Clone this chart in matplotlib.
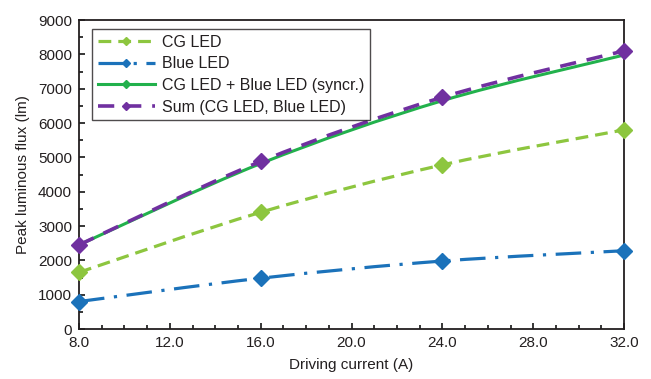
import numpy as np
import matplotlib
matplotlib.use("Agg")
import matplotlib.pyplot as plt
from matplotlib.path import Path
from matplotlib.patches import PathPatch
from matplotlib.lines import Line2D

current = [8.0, 16.0, 24.0, 32.0]
cg_led = [1650, 3400, 4780, 5800]
blue_led = [800, 1480, 1980, 2280]
sync = [2450, 4820, 6650, 7980]
total = [2450, 4880, 6750, 8100]

x_ticks = [8.0, 12.0, 16.0, 20.0, 24.0, 28.0, 32.0]

plt.rcParams['font.family'] = ['Liberation Sans', 'DejaVu Sans']
txt = '#231F20'

fig = plt.figure(figsize=(6.51, 3.79), dpi=100)
ax = fig.add_axes([0.1214, 0.1319, 0.8372, 0.8153])


def smooth_path(xs, ys):
    # excel style smoothed line: cubic bezier segments (catmull-rom, 1/6)
    pts = np.column_stack([xs, ys]).astype(float)
    n = len(pts)
    verts = [pts[0]]
    codes = [Path.MOVETO]
    for i in range(n - 1):
        p0 = pts[i - 1] if i > 0 else pts[i]
        p1 = pts[i]
        p2 = pts[i + 1]
        p3 = pts[i + 2] if i + 2 < n else pts[i + 1]
        c1 = p1 + (p2 - p0) / 6.0
        c2 = p2 - (p3 - p1) / 6.0
        verts += [c1, c2, p2]
        codes += [Path.CURVE4] * 3
    return Path(verts, codes)


series = [
    (cg_led, '#8DC63F', (0, (4, 2.2)), 2.3, 9, 'CG LED'),
    (blue_led, '#1B72BA', (0, (8, 3, 1, 3)), 2.3, 9, 'Blue LED'),
    (sync, '#22B14C', '-', 2.2, 4, 'CG LED + Blue LED (syncr.)'),
    (total, '#7030A0', (0, (4.5, 3)), 2.6, 9, 'Sum (CG LED, Blue LED)'),
]

handles = []
for ys, col, ls, lw, ms, lab in series:
    patch = PathPatch(smooth_path(current, ys), facecolor='none', edgecolor=col,
                      linestyle=ls, linewidth=lw, capstyle='butt', zorder=3)
    ax.add_patch(patch)
    ax.plot(current, ys, linestyle='none', marker='D', markersize=ms * 0.85,
            color=col, markeredgecolor=col, zorder=4, clip_on=False)
    handles.append(Line2D([], [], color=col, linestyle=ls, linewidth=lw,
                          marker='D', markersize=4))

ax.set_xlim(8, 32)
ax.set_ylim(0, 9000)
ax.set_xticks(x_ticks)
ax.set_xticklabels(['%.1f' % v for v in x_ticks])
ax.set_xticks(np.arange(8, 33, 1), minor=True)
ax.set_yticks(np.arange(0, 9001, 1000))
ax.set_yticks(np.arange(0, 9001, 500), minor=True)
ax.tick_params(axis='both', which='both', direction='in', labelsize=11,
               labelcolor=txt, width=1.1, pad=5)
ax.tick_params(which='major', length=4)
ax.tick_params(which='minor', length=3)
for s in ax.spines.values():
    s.set_linewidth(1.3)
    s.set_color(txt)

ax.set_xlabel('Driving current (A)', fontsize=11, color=txt, labelpad=6)
ax.set_ylabel('Peak luminous flux (lm)', fontsize=11, color=txt, labelpad=6)

leg = ax.legend(handles=handles, labels=[s[5] for s in series], loc='upper left',
                bbox_to_anchor=(0.024, 0.971), fontsize=11.5, frameon=True,
                fancybox=False, edgecolor=txt, handlelength=3.6,
                borderpad=0.35, labelspacing=0.42, handletextpad=0.4,
                borderaxespad=0)
leg.get_frame().set_linewidth(1.0)
for t in leg.get_texts():
    t.set_color(txt)

fig.savefig('out.png', dpi=100)
